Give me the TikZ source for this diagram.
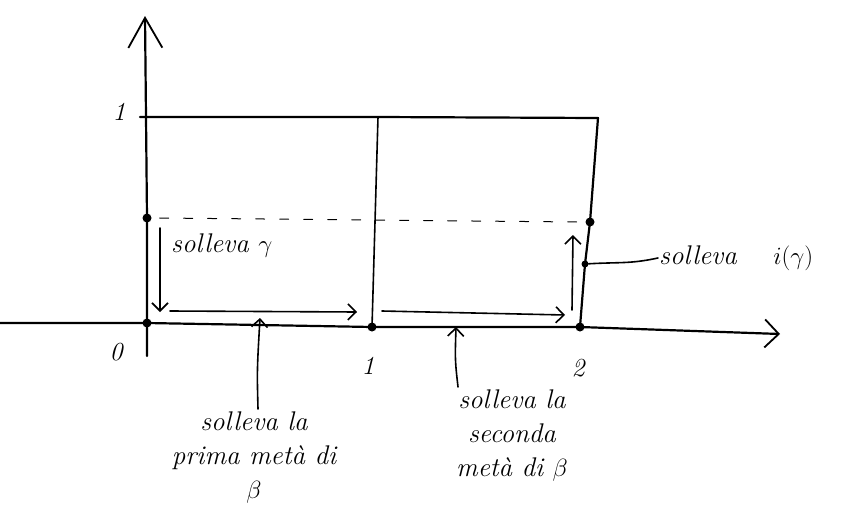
\documentclass[tikz,border=0pt]{standalone}
\usepackage{fontspec}
\usetikzlibrary{arrows.meta}
\begin{document}
\begin{tikzpicture}[x=1pt,y=-1pt, line cap=round, line join=round,
  pen/.style={line width=2.2pt},
  thinpen/.style={line width=1.6pt},
  barb/.style={-{Straight Barb[length=8pt,width=16pt,line width=1.6pt]}},
  xbarb/.style={-{Straight Barb[length=14pt,width=28pt,line width=1.8pt]}},
  ybarb/.style={-{Straight Barb[length=30pt,width=34pt,line width=1.8pt]}},
  dot/.style={circle,fill,inner sep=0pt,minimum size=9pt},
  hand/.style={font=\itshape\fontsize{27}{34}\selectfont, inner sep=1pt, align=center},
  num/.style={font=\itshape\fontsize{26}{28}\selectfont, inner sep=1pt}]
\useasboundingbox (0,0) rectangle (857,525);

% points on the axes and on the sides
\node[dot] (O) at (147,323) {};
\node[dot] (A) at (372,327) {};
\node[dot] (B) at (580,327) {};
\node[dot] (P) at (147,218) {};
\node[dot] (Q) at (590,222) {};
\node[dot,minimum size=7pt] (R) at (585,264) {};
\coordinate (xs) at (0,323);
\coordinate (xe) at (780,334);
\coordinate (ys) at (147,356);
\coordinate (ye) at (145,16);
\coordinate (TL) at (140,117);
\coordinate (TM) at (378,117);
\coordinate (TR) at (598,118);

% axes
\draw[pen,xbarb] (xs) -- (O.center) -- (A.center) -- (B.center) -- (xe);
\draw[pen,ybarb] (ys) -- (O.center) -- (P.center) -- (ye);

% square [0,2] x [0,1]
\draw[pen] (TL) -- (TM) -- (TR) -- (Q.center) -- (R.center) -- (B.center);
\draw[thinpen] (TM) -- (A.center);
\draw[line width=1pt, dash pattern=on 9pt off 15pt] (P.east) ++(8,0) -- ([xshift=-8pt]Q.west);

% lifting arrows
\coordinate (d1) at (160,228);
\coordinate (d2) at (160,312);
\coordinate (h1a) at (170,311);
\coordinate (h1b) at (357,312);
\coordinate (h2a) at (382,311);
\coordinate (h2b) at (565,315);
\coordinate (u1) at (572,310);
\coordinate (u2) at (573,235);
\draw[thinpen,barb] (d1) -- (d2);
\draw[thinpen,barb] (h1a) -- (h1b);
\draw[thinpen,barb] (h2a) -- (h2b);
\draw[thinpen,barb] (u1) -- (u2);

% labels
\node[num] (n0) at (116,352) {0};
\node[num] (n1) at (368,366) {1};
\node[num] (n2) at (578,368) {2};
\node[num] (y1) at (119,112) {1};

\node[hand, anchor=west] (lg) at (170,246) {solleva $\gamma$};
\node[hand, anchor=west] (li) at (658,258) {solleva\quad\ $i(\gamma)$};
\draw[thinpen] (R) .. controls (620,262) and (630,264) .. (li.west);

\node[hand] (l1) at (254,458) {solleva la\\prima metà di\\$\beta$};
\node[hand] (l2) at (512,436) {solleva la\\seconda\\metà di $\beta$};
\draw[thinpen,barb] (l1.north) ++(4,-2) .. controls (257,370) .. (260,318);
\draw[thinpen,barb] (l2.north) ++(-54,-2) .. controls (455,360) .. (456,327);
\end{tikzpicture}
\end{document}
